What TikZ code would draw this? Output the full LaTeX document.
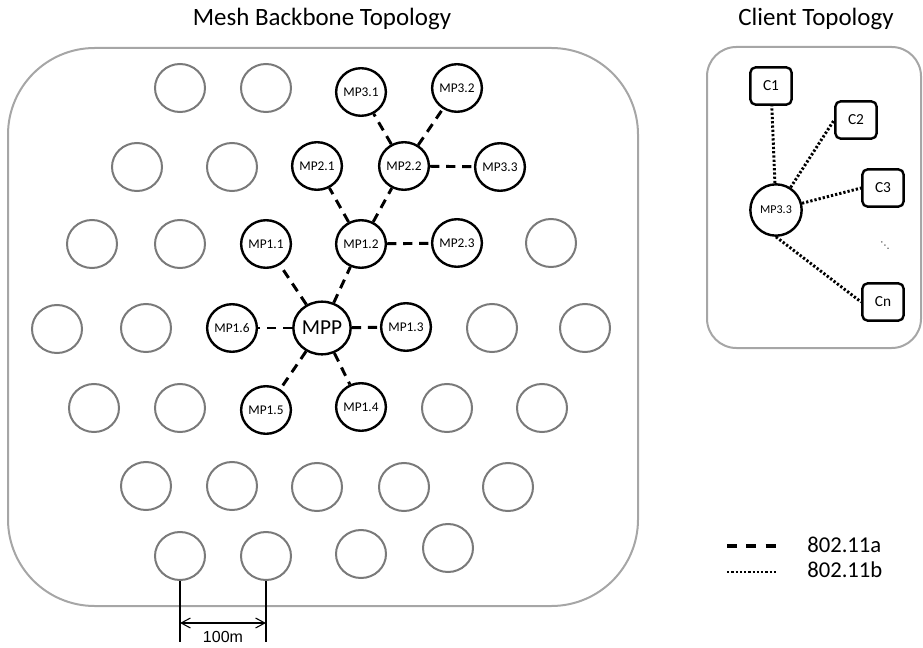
\documentclass[tikz,border=0pt]{standalone}
\usepackage{fontspec}
\setmainfont{Carlito}
\newfontfamily\arialfont{Liberation Sans}
\newfontfamily\dejavu{DejaVu Sans}
\usetikzlibrary{shapes.geometric,arrows.meta}
\definecolor{graycircle}{HTML}{7A7A7A}
\definecolor{boxborder}{HTML}{A6A6A6}
\begin{document}
\begin{tikzpicture}[x=0.75pt,y=-0.75pt,
  gnode/.style={ellipse,draw=graycircle,line width=1.5pt,minimum width=37.5pt,minimum height=36pt,inner sep=0pt},
  mp/.style={ellipse,draw=black,line width=1.8pt,minimum width=37.2pt,minimum height=35.7pt,inner sep=0pt,font=\fontsize{10}{12}\selectfont},
  mppnode/.style={ellipse,draw=black,line width=1.8pt,minimum width=43pt,minimum height=39.5pt,inner sep=0pt,font=\fontsize{16}{18}\selectfont},
  client/.style={rectangle,rounded corners=4pt,draw=black,line width=1.8pt,minimum width=31pt,minimum height=28pt,inner sep=0pt,font=\fontsize{11.5}{13}\selectfont},
  clientmp/.style={ellipse,draw=black,line width=1.8pt,minimum width=38.5pt,minimum height=38.5pt,inner sep=0pt,font=\fontsize{9}{11}\selectfont},
  frame/.style={draw=boxborder,line width=1.5pt},
  dashlink/.style={line width=2.2pt,dash pattern=on 7pt off 5pt},
  dotlink/.style={line width=2.2pt,dash pattern=on 1.7pt off 1.5pt},
  titlefont/.style={font=\fontsize{18.7}{22}\selectfont},
  legendfont/.style={font=\fontsize{17}{20}\selectfont},
  dimline/.style={line width=0.8pt}
]
\useasboundingbox (0,0) rectangle (923,648);

% frames
\draw[frame,rounded corners=65pt] (8,48) rectangle (638,606);
\draw[frame,rounded corners=22pt] (707,47) rectangle (921,348);

% titles
\node[titlefont,anchor=base] (t1) at (322,26) {Mesh Backbone Topology};
\node[titlefont,anchor=base] (t2) at (816,26) {Client Topology};

% row 1
\node[gnode] (g1a) at (180,88) {};
\node[gnode] (g1b) at (266,88) {};
\node[mp] (mp31) at (361,92) {MP3.1};
\node[mp] (mp32) at (457,88) {MP3.2};
% row 2
\node[gnode] (g2a) at (137,167) {};
\node[gnode] (g2b) at (232,167) {};
\node[mp] (mp21) at (317,166) {MP2.1};
\node[mp] (mp22) at (404,166) {MP2.2};
\node[mp] (mp33) at (500,167) {MP3.3};
% row 3
\node[gnode] (g3a) at (92,244) {};
\node[gnode] (g3b) at (180,244) {};
\node[mp] (mp11) at (266,244) {MP1.1};
\node[mp] (mp12) at (361,244) {MP1.2};
\node[mp] (mp23) at (457,243) {MP2.3};
\node[gnode] (g3c) at (551,243) {};
% row 4
\node[gnode] (g4a) at (57,329) {};
\node[gnode] (g4b) at (146,328) {};
\node[mp] (mp16) at (232,328) {MP1.6};
\node[mppnode] (mpp) at (322,328) {MPP};
\node[mp] (mp13) at (406,327) {MP1.3};
\node[gnode] (g4c) at (492,328) {};
\node[gnode] (g4d) at (585,328) {};
% row 5
\node[gnode] (g5a) at (94,408) {};
\node[gnode] (g5b) at (180,408) {};
\node[mp] (mp15) at (266,410) {MP1.5};
\node[mp] (mp14) at (361,407) {MP1.4};
\node[gnode] (g5c) at (447,408) {};
\node[gnode] (g5d) at (542,408) {};
% row 6
\node[gnode] (g6a) at (146,486) {};
\node[gnode] (g6b) at (232,486) {};
\node[gnode] (g6c) at (317,487) {};
\node[gnode] (g6d) at (404,487) {};
\node[gnode] (g6e) at (508,487) {};
% row 7
\node[gnode] (g7a) at (180,556) {};
\node[gnode] (g7b) at (266,556) {};
\node[gnode] (g7c) at (361,554) {};
\node[gnode] (g7d) at (448,548) {};

% backbone links
\draw[dashlink] (mpp) -- (mp11);
\draw[dashlink] (mpp) -- (mp12);
\draw[dashlink] (mpp) -- (mp16);
\draw[dashlink] (mpp) -- (mp13);
\draw[dashlink] (mpp) -- (mp15);
\draw[dashlink] (mpp) -- (mp14);
\draw[dashlink] (mp12) -- (mp21);
\draw[dashlink] (mp12) -- (mp22);
\draw[dashlink] (mp12) -- (mp23);
\draw[dashlink] (mp22) -- (mp31);
\draw[dashlink] (mp22) -- (mp32);
\draw[dashlink] (mp22) -- (mp33);

% dimension
\coordinate (d1) at (180,642);
\coordinate (d2) at (266,642);
\draw[dimline] (g7a.south) -- (d1);
\draw[dimline] (g7b.south) -- (d2);
\coordinate (a1) at (180,623);
\coordinate (a2) at (266,623);
\draw[dimline,{Straight Barb[length=7pt,width=7.5pt]}-{Straight Barb[length=7pt,width=7.5pt]}] (a1) -- (a2);
\node[font=\arialfont\fontsize{12}{14}\selectfont,anchor=base] (dimtxt) at (223,642) {100m};

% client topology
\node[client] (c1) at (771,86) {C1};
\node[client] (c2) at (856,120) {C2};
\node[client] (c3) at (883,188) {C3};
\node[client] (cn) at (883,302) {Cn};
\node[clientmp] (mpc) at (776,210) {MP3.3};
\node[font=\dejavu\fontsize{7}{8}\selectfont] (dots) at (885,246) {⋱};
\draw[dotlink] (mpc) -- (c1);
\draw[dotlink] (mpc) -- (c2.west);
\draw[dotlink] (mpc) -- (c3.west);
\draw[dotlink] (mpc.south) -- (cn.west);

% legend
\coordinate (la1) at (727,546);
\coordinate (la2) at (777,546);
\coordinate (lb1) at (727,572);
\coordinate (lb2) at (777,572);
\draw[line width=2.4pt,dash pattern=on 7.5pt off 7pt] (la1) -- (la2);
\draw[dotlink] (lb1) -- (lb2);
\node[legendfont,anchor=base west,inner sep=0pt] (la) at (807,552) {802.11a};
\node[legendfont,anchor=base west,inner sep=0pt] (lb) at (807,577) {802.11b};
\end{tikzpicture}
\end{document}
